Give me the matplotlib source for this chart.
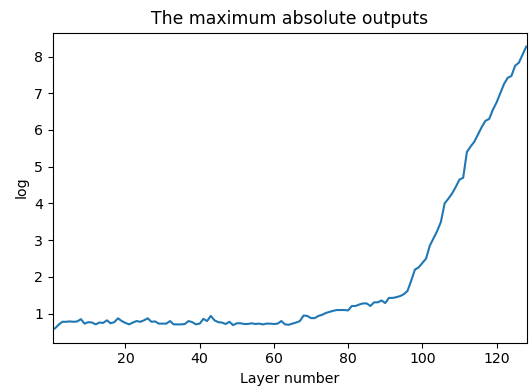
import matplotlib
matplotlib.use("Agg")
import matplotlib.pyplot as plt
import numpy as np

layers = list(range(1, 129))
log_max_outputs = [
    0.60, 0.70, 0.78, 0.78, 0.79, 0.78, 0.79, 0.85, 0.73, 0.77,
    0.76, 0.71, 0.76, 0.75, 0.82, 0.74, 0.77, 0.875, 0.80, 0.75,
    0.71, 0.76, 0.80, 0.78, 0.82, 0.875, 0.78, 0.79, 0.73, 0.73,
    0.73, 0.80, 0.71, 0.71, 0.71, 0.72, 0.80, 0.77, 0.71, 0.73,
    0.86, 0.80, 0.94, 0.82, 0.77, 0.76, 0.72, 0.78, 0.69, 0.74,
    0.74, 0.72, 0.72, 0.74, 0.72, 0.73, 0.71, 0.73, 0.73, 0.72,
    0.73, 0.80, 0.71, 0.70, 0.73, 0.76, 0.80, 0.95, 0.94, 0.88,
    0.88, 0.94, 0.97, 1.02, 1.05, 1.08, 1.10, 1.10, 1.10, 1.09,
    1.21, 1.21, 1.25, 1.28, 1.28, 1.21, 1.31, 1.31, 1.36, 1.29,
    1.43, 1.43, 1.45, 1.48, 1.53, 1.62, 1.90, 2.20, 2.26, 2.38,
    2.50, 2.85, 3.05, 3.25, 3.50, 4.00, 4.13, 4.27, 4.45, 4.65,
    4.70, 5.40, 5.55, 5.68, 5.88, 6.08, 6.25, 6.30, 6.55, 6.75,
    7.00, 7.25, 7.42, 7.47, 7.75, 7.83, 8.05, 8.27,
]

fig = plt.figure(figsize=(5.29, 3.87), dpi=100)
W, H = 529, 387
left, right, top, bottom = 52.7, 527, 32.5, 342.5
ax = fig.add_axes([left / W, 1 - bottom / H, (right - left) / W, (bottom - top) / H])
ax.plot(layers, log_max_outputs, color="#1f77b4", linewidth=1.5)
ax.set_xlim(0.4, 128.2)
ax.set_title("The maximum absolute outputs", fontsize=12.4)
ax.set_xlabel("Layer number", fontsize=10.2)
ax.set_ylabel("log", fontsize=10.2)
ax.tick_params(labelsize=10.2)
fig.savefig("out.png", dpi=100)
